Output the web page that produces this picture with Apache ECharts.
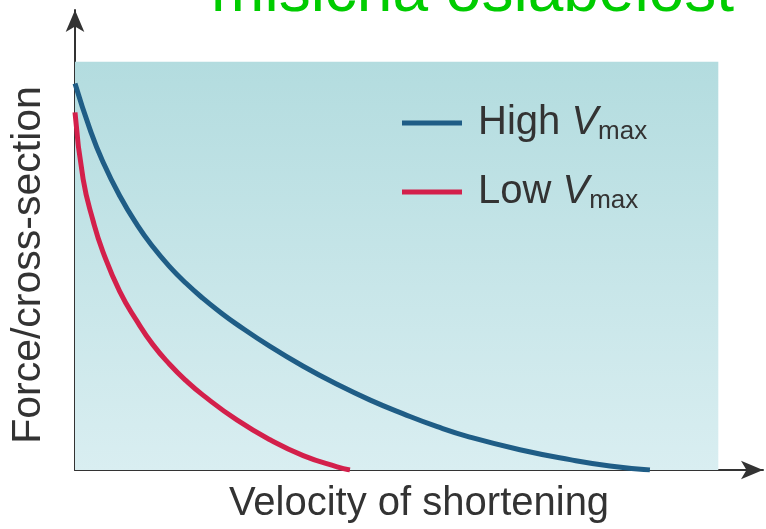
<!DOCTYPE html>
<html>
<head>
<meta charset="utf-8">
<script src="https://cdn.jsdelivr.net/npm/echarts@6/dist/echarts.min.js"></script>
<style>
html,body{margin:0;padding:0;background:#fff;}
#c{width:766px;height:529px;}
</style>
</head>
<body>
<div id="c"></div>
<script>
// Data (arbitrary units)
const seriesNames = ['High Vmax', 'Low Vmax'];
const highVelocity = [0, 2.2, 4.1, 6.6, 9.2, 11.5, 14.0, 16.4, 18.9, 21.4, 23.9, 28.8, 33.7, 38.7, 43.6, 48.4, 53.5, 58.3, 65.7, 73.1, 79.0, 84.9];
const highForce    = [85.7, 75.6, 68.4, 60.8, 54.3, 49.5, 45.05, 41.4, 38.05, 35.05, 32.3, 27.4, 23.0, 19.0, 15.5, 12.5, 9.6, 7.3, 4.5, 2.3, 0.9, 0];
const lowVelocity  = [0, 1.2, 2.7, 4.1, 6.6, 9.2, 11.5, 14.0, 16.4, 18.9, 23.9, 28.8, 33.7, 38.7, 40.6];
const lowForce     = [79.3, 64.5, 55.1, 48.5, 39.6, 32.9, 27.8, 23.4, 19.8, 16.6, 11.1, 6.7, 3.2, 0.7, 0];
const panelExtent  = [95.0, 90.5]; // shaded region: velocity, force
const axisMax      = [101.6, 102];
const titleText = 'mišićna oslabelost';
const xName = 'Velocity of shortening';
const yName = 'Force/cross-section';

const zip = (xs, ys) => xs.map((x, i) => [x, ys[i]]);
const FONT = 'Liberation Sans, Arial, Helvetica, sans-serif';

const chart = echarts.init(document.getElementById('c'), null, {renderer: 'canvas'});
chart.setOption({
  animation: false,
  backgroundColor: '#ffffff',
  grid: {left: 75, right: 3, top: 10, bottom: 56, containLabel: false},
  xAxis: {
    type: 'value', min: 0, max: axisMax[0],
    name: xName, nameLocation: 'middle', nameGap: 14,
    nameTextStyle: {fontSize: 40, color: '#333', fontFamily: FONT},
    axisLine: {show: true, symbol: ['none', 'arrow'], symbolSize: [14, 22], lineStyle: {color: '#333', width: 2}},
    axisTick: {show: false}, axisLabel: {show: false}, splitLine: {show: false}
  },
  yAxis: {
    type: 'value', min: 0, max: axisMax[1],
    name: yName, nameLocation: 'middle', nameGap: 26,
    nameTextStyle: {fontSize: 41, color: '#333', fontFamily: FONT, padding: [0, 50, 0, 0]},
    axisLine: {show: true, symbol: ['none', 'arrow'], symbolSize: [14, 22], lineStyle: {color: '#333', width: 2}},
    axisTick: {show: false}, axisLabel: {show: false}, splitLine: {show: false}
  },
  legend: {
    data: seriesNames,
    orient: 'vertical', left: 397, top: 96,
    itemWidth: 60, itemHeight: 5, icon: 'rect', itemGap: 25,
    formatter: n => n === 'High Vmax' ? '{n|High }{v|V}{s|max}' : '{n|Low }{v|V}{s|max}',
    textStyle: {
      fontFamily: FONT, color: '#333',
      rich: {
        n: {fontSize: 40, lineHeight: 44, color: '#333', fontFamily: FONT, padding: [0, 0, 0, 11]},
        v: {fontSize: 40, lineHeight: 44, color: '#333', fontFamily: FONT, fontStyle: 'italic'},
        s: {fontSize: 26, lineHeight: 26, color: '#333', fontFamily: FONT, padding: [18, 0, 0, 0]}
      }
    }
  },
  graphic: [{
    type: 'text', x: 734, y: -7, z: 10,
    style: {text: titleText, fontSize: 64, fontFamily: FONT, fill: '#00cc00', align: 'right', verticalAlign: 'middle'}
  }],
  series: [
    {
      name: 'panel', type: 'line', data: [], z: 1, silent: true,
      markArea: {
        silent: true,
        itemStyle: {
          color: new echarts.graphic.LinearGradient(0, 0, 0, 1, [
            {offset: 0, color: '#b3dcdf'}, {offset: 1, color: '#d9eef1'}
          ])
        },
        data: [[{coord: [0, 0]}, {coord: panelExtent}]]
      }
    },
    {
      name: seriesNames[0], type: 'line', smooth: 0.5, symbol: 'none', z: 3,
      color: '#1f5d86',
      lineStyle: {width: 5, color: '#1f5d86'},
      data: zip(highVelocity, highForce)
    },
    {
      name: seriesNames[1], type: 'line', smooth: 0.5, symbol: 'none', z: 3,
      color: '#d3204b',
      lineStyle: {width: 5, color: '#d3204b'},
      data: zip(lowVelocity, lowForce)
    }
  ]
});
</script>
</body>
</html>
